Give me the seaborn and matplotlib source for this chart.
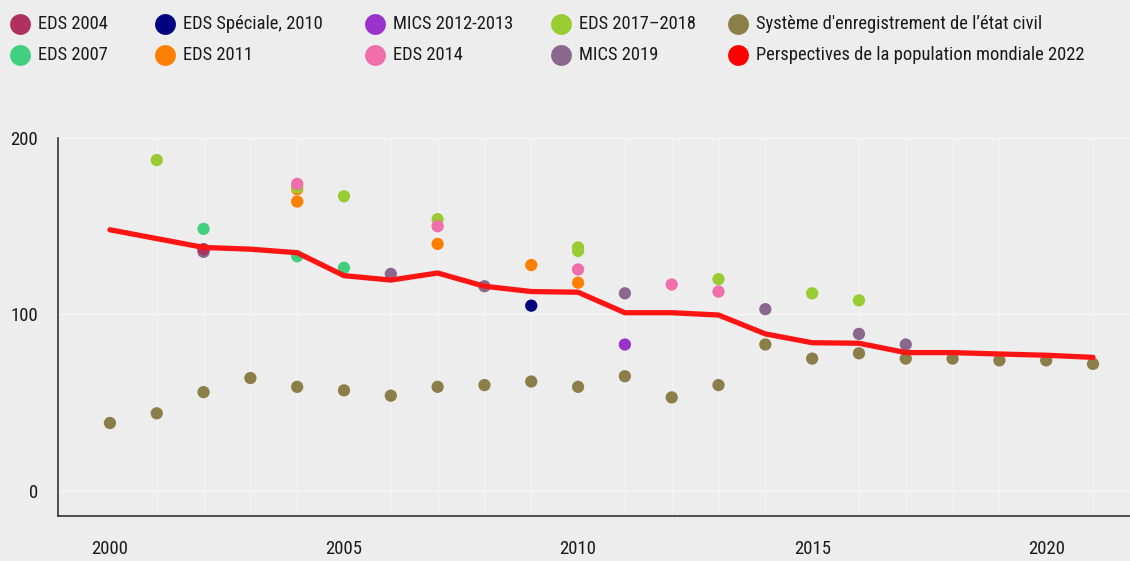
import pandas as pd
import matplotlib.pyplot as plt
from matplotlib.lines import Line2D
import seaborn as sns

# series
eds2004_years = [2002]
eds2004_vals = [137]

eds2007_years = [2002, 2004, 2005]
eds2007_vals = [148.5, 133, 126.5]

eds_spec2010_years = [2009]
eds_spec2010_vals = [105]

eds2011_years = [2004, 2004, 2007, 2009, 2010]
eds2011_vals = [171, 164, 140, 128, 118]

mics2012_years = [2011]
mics2012_vals = [83]

eds2017_years = [2001, 2004, 2005, 2007, 2010, 2010, 2013, 2015, 2016]
eds2017_vals = [187.5, 172, 167, 154, 138, 136, 120, 112, 108]

eds2014_years = [2004, 2007, 2010, 2012, 2013]
eds2014_vals = [174, 150, 125.5, 117, 113]

mics2019_years = [2002, 2006, 2008, 2011, 2014, 2016, 2017]
mics2019_vals = [135.5, 123, 116, 112, 103, 89, 83]

civil_years = list(range(2000, 2022))
civil_vals = [38.5, 44, 56, 64, 59, 57, 54, 59, 60, 62, 59, 65, 53, 60,
              83, 75, 78, 75, 75, 74, 74, 72]

wpp_years = list(range(2000, 2022))
wpp_vals = [148, 143, 138, 137, 135, 122, 119.5, 123.5, 116, 113, 112.6, 101,
            101, 99.7, 89, 84, 83.7, 78.4, 78.4, 77.6, 76.9, 75.7]

labels = ['EDS 2004', 'EDS 2007', 'EDS Spéciale, 2010', 'EDS 2011',
          'MICS 2012-2013', 'EDS 2014', 'EDS 2017–2018', 'MICS 2019',
          "Système d'enregistrement de l’état civil",
          'Perspectives de la population mondiale 2022']
colors = ['#B03060', '#40D080', '#000080', '#FF8000', '#9933CC', '#F06EAA',
          '#99CC33', '#8A688E', '#8C7E48', '#FF0000']
palette = dict(zip(labels, colors))

# drawing order of the dots (later = on top)
point_series = [
    ("Système d'enregistrement de l’état civil", civil_years, civil_vals),
    ('MICS 2019', mics2019_years, mics2019_vals),
    ('EDS 2004', eds2004_years, eds2004_vals),
    ('EDS 2007', eds2007_years, eds2007_vals),
    ('EDS Spéciale, 2010', eds_spec2010_years, eds_spec2010_vals),
    ('EDS 2011', eds2011_years, eds2011_vals),
    ('MICS 2012-2013', mics2012_years, mics2012_vals),
    ('EDS 2017–2018', eds2017_years, eds2017_vals),
    ('EDS 2014', eds2014_years, eds2014_vals),
]
rows = []
for name, yrs, vals in point_series:
    for yr, v in zip(yrs, vals):
        rows.append({'year': yr, 'value': v, 'source': name})
points = pd.DataFrame(rows)
wpp = pd.DataFrame({'year': wpp_years, 'value': wpp_vals})

sns.set_theme(style='white')
plt.rcParams['font.family'] = ['Roboto Condensed', 'Archivo Narrow', 'DejaVu Sans']
bg = '#ededed'
ink = '#1a1a1a'

fig = plt.figure(figsize=(11.3, 5.61), dpi=100, facecolor=bg)
ax = fig.add_axes([0.0513, 0.0802, 0.9487, 0.6738])
ax.set_facecolor(bg)

ax.grid(True, axis='y', color='#f7f7f7', linewidth=1, zorder=0)
ax.grid(True, axis='x', which='minor', color='#f4f4f4', linewidth=0.8, zorder=0)

sns.scatterplot(data=points, x='year', y='value', hue='source', palette=palette,
                s=78, linewidth=0, alpha=1, legend=False, ax=ax, zorder=3,
                clip_on=False)
sns.lineplot(data=wpp, x='year', y='value', color='#FF1414', linewidth=3.8,
             ax=ax, zorder=4)

ax.set_xlim(1998.89, 2021.79)
ax.set_ylim(-14.2, 200)
ax.set_yticks([0, 100, 200])
ax.set_xticks([2000, 2005, 2010, 2015, 2020])
ax.set_xticks(range(2000, 2022), minor=True)
ax.set_xlabel('')
ax.set_ylabel('')
for s in ['top', 'right']:
    ax.spines[s].set_visible(False)
for s in ['left', 'bottom']:
    ax.spines[s].set_color('#333333')
    ax.spines[s].set_linewidth(1.2)
ax.tick_params(axis='x', which='major', length=13, width=1.2, color='#333333',
               labelsize=13.5, labelcolor=ink, pad=4)
ax.tick_params(axis='x', which='minor', length=4.5, width=1.2, color='#333333')
ax.tick_params(axis='y', length=4.5, width=1.2, color='#333333', labelsize=13.5,
               labelcolor=ink, pad=10)

# legend laid out in five columns like the original
col_x = [20, 165, 375, 561, 738]
row_y = [24, 55]
W, H = fig.get_size_inches() * fig.dpi
for i, lab in enumerate(labels):
    cx, ry = col_x[i // 2], row_y[i % 2]
    fig.add_artist(Line2D([cx / W], [1 - ry / H], marker='o', linestyle='',
                          markersize=15, markerfacecolor=palette[lab],
                          markeredgewidth=0, transform=fig.transFigure))
    fig.text((cx + 18) / W, 1 - ry / H, lab, fontsize=13.3, color=ink,
             va='center', ha='left')

fig.savefig('out.png', dpi=100, facecolor=bg)
